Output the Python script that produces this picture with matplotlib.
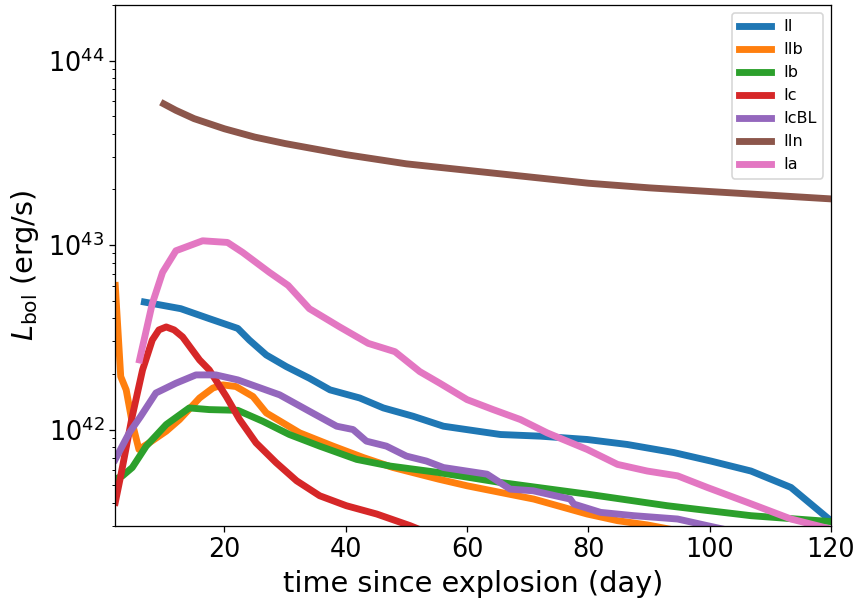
import matplotlib
matplotlib.use("Agg")
import matplotlib.pyplot as plt
import numpy as np

# light curves: time (day) and log10 L_bol (erg/s)
t_II = [6.8, 12.8, 17.5, 22.2, 24.1, 26.9, 30.2, 34.0, 37.4, 42.3, 46.2, 51.1, 56.1,
        65.5, 72.1, 79.8, 86.4, 94.1, 100.2, 106.8, 113.4, 120.0]
logL_II = [42.691, 42.655, 42.601, 42.548, 42.485, 42.404, 42.341, 42.278, 42.215, 42.171,
           42.117, 42.072, 42.018, 41.973, 41.964, 41.946, 41.919, 41.875, 41.829, 41.775,
           41.686, 41.505]

t_IIb = [2.0, 2.9, 3.8, 4.8, 5.9, 7.6, 10.4, 12.6, 15.9, 18.1, 19.7, 21.9, 24.7, 26.9,
         32.4, 37.9, 42.9, 47.8, 55.3, 60.0, 71.0, 79.8, 84.8, 89.7, 95.0]
logL_IIb = [42.781, 42.287, 42.215, 42.036, 41.892, 41.928, 41.991, 42.054, 42.171, 42.225,
            42.242, 42.233, 42.179, 42.090, 41.982, 41.910, 41.848, 41.794, 41.731, 41.695,
            41.623, 41.542, 41.506, 41.483, 41.45]

t_Ib = [2.0, 3.2, 4.8, 7.1, 10.4, 14.2, 17.5, 22.2, 26.3, 30.7, 35.7, 41.8, 47.3, 55.3,
        65.5, 79.8, 93.0, 106.8, 120.0]
logL_Ib = [41.731, 41.749, 41.794, 41.910, 42.027, 42.117, 42.108, 42.104, 42.045, 41.973,
           41.910, 41.838, 41.802, 41.767, 41.713, 41.650, 41.587, 41.533, 41.501]

t_Ic = [2.0, 2.9, 4.8, 6.5, 8.1, 9.2, 10.4, 11.7, 13.1, 15.9, 17.5, 20.3, 22.5, 25.2,
        28.5, 31.9, 35.7, 40.1, 45.1, 50.6, 55.0]
logL_Ic = [41.605, 41.749, 42.072, 42.323, 42.485, 42.54, 42.556, 42.54, 42.502, 42.377,
           42.323, 42.179, 42.054, 41.928, 41.821, 41.722, 41.641, 41.587, 41.542, 41.479,
           41.42]

t_IcBL = [2.0, 4.3, 6.2, 8.7, 12.0, 15.3, 18.6, 22.2, 29.1, 34.0, 38.5, 41.2, 43.4, 46.7,
          50.0, 53.3, 56.1, 63.3, 67.1, 70.9, 77.0, 77.6, 82.0, 87.5, 94.7, 99.6, 105.0]
logL_IcBL = [41.838, 41.982, 42.072, 42.198, 42.251, 42.296, 42.296, 42.269, 42.188, 42.099,
             42.018, 42.000, 41.937, 41.910, 41.856, 41.829, 41.794, 41.758, 41.677, 41.668,
             41.623, 41.596, 41.551, 41.533, 41.515, 41.479, 41.44]

t_IIn = [10, 12, 15, 20, 25, 30, 40, 50, 60, 70, 80, 90, 100, 110, 120]
logL_IIn = [43.765, 43.73, 43.685, 43.63, 43.585, 43.55, 43.49, 43.44, 43.405, 43.37,
            43.335, 43.31, 43.29, 43.27, 43.25]

t_Ia = [6.0, 8.1, 9.8, 12.0, 16.4, 20.5, 23.0, 27.4, 30.5, 34.0, 39.0, 43.7, 48.1, 52.2,
        55.5, 60.0, 64.3, 68.8, 73.2, 79.8, 84.8, 89.7, 94.7, 99.6, 106.2, 113.4, 120.0]
logL_Ia = [42.377, 42.682, 42.852, 42.969, 43.023, 43.014, 42.960, 42.852, 42.781, 42.655,
           42.556, 42.467, 42.422, 42.314, 42.251, 42.162, 42.108, 42.054, 41.982, 41.892,
           41.811, 41.775, 41.749, 41.686, 41.605, 41.515, 41.46]

curves = [
    ("II", t_II, logL_II),
    ("IIb", t_IIb, logL_IIb),
    ("Ib", t_Ib, logL_Ib),
    ("Ic", t_Ic, logL_Ic),
    ("IcBL", t_IcBL, logL_IcBL),
    ("IIn", t_IIn, logL_IIn),
    ("Ia", t_Ia, logL_Ia),
]

DPI = 115
fig = plt.figure(figsize=(857 / DPI, 601 / DPI), dpi=DPI)
ax = fig.add_axes([0.1345, 0.1248, 0.9697 - 0.1345, 0.9917 - 0.1248])

for name, t, logL in curves:
    ax.plot(t, 10 ** np.array(logL), lw=4.3, label=name)

ax.set_yscale("log")
ax.set_xlim(2, 120)
ax.set_ylim(3e41, 2e44)
ax.tick_params(labelsize=16)
ax.set_xlabel("time since explosion (day)", fontsize=18)
ax.set_ylabel(r"$L_{\rm bol}$ (erg/s)", fontsize=18)
ax.legend(loc="upper right", fontsize=10)

fig.savefig("out.png", dpi=DPI)
